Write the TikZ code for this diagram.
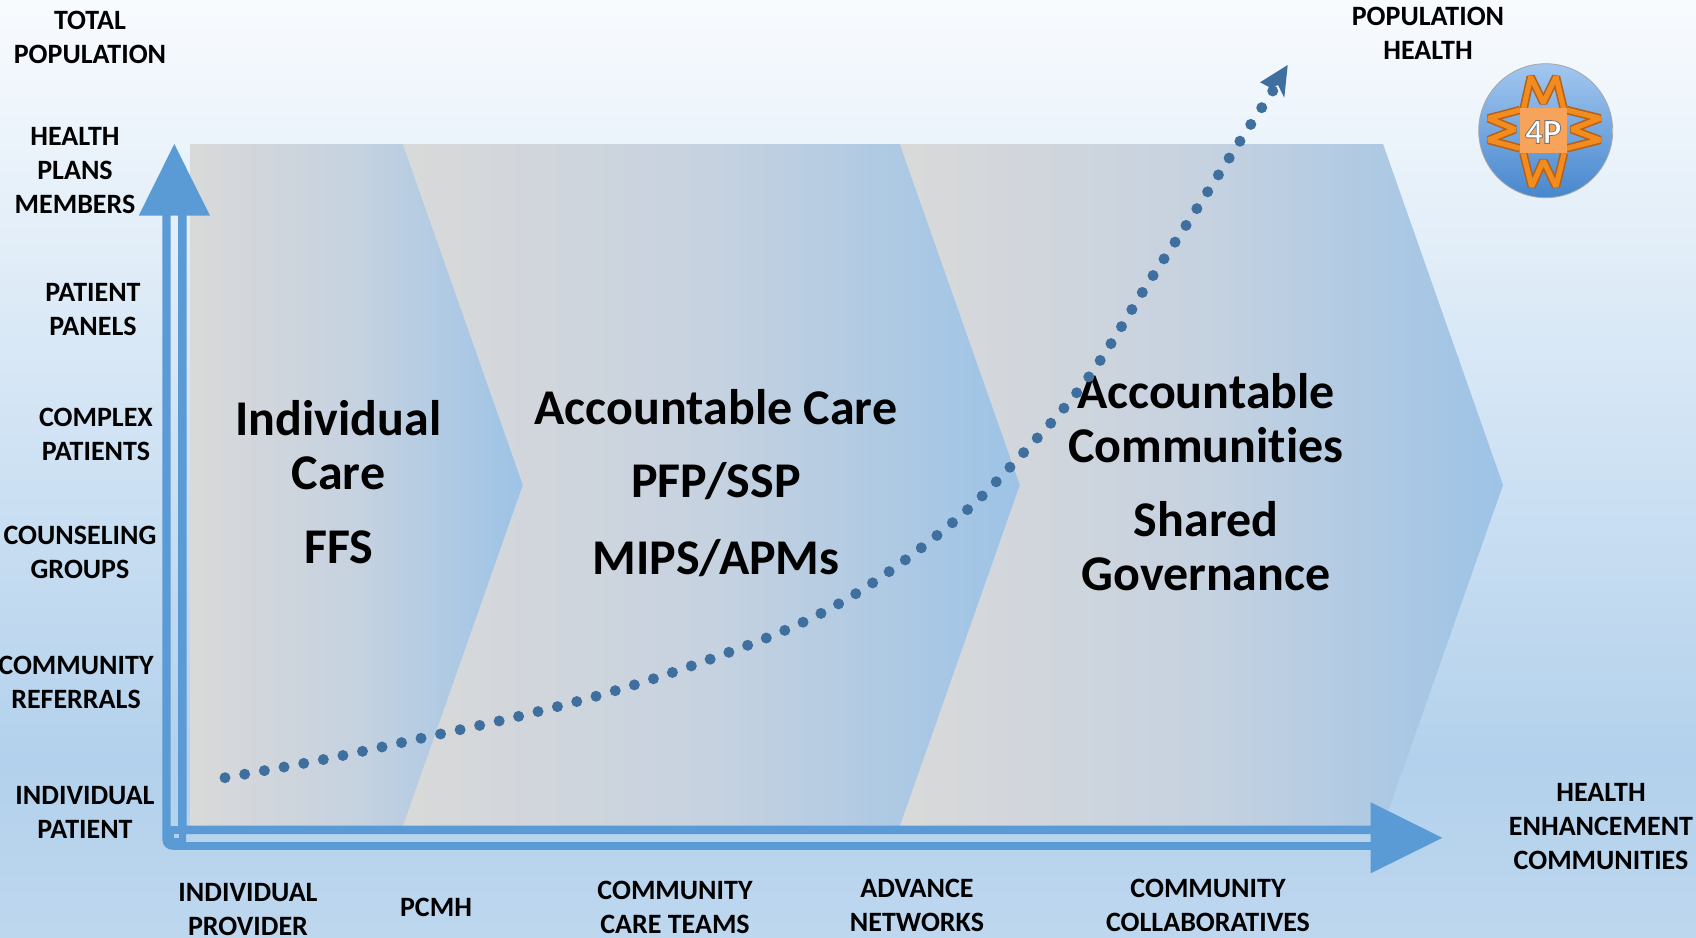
\documentclass[tikz,border=0pt]{standalone}
\usepackage{fontspec}
\setmainfont{Carlito}[Ligatures={NoCommon}]
\definecolor{axisblue}{HTML}{5B9BD5}
\definecolor{dotblue}{HTML}{3F6F9F}
\definecolor{chevgray}{HTML}{D9D9D9}
\definecolor{chevmid}{HTML}{C6D2E0}
\definecolor{chevblue}{HTML}{9DC3E6}
\definecolor{bgtop}{HTML}{F8FBFE}
\definecolor{bgmid}{HTML}{B3D1EC}
\definecolor{bgbot}{HTML}{BDD7EE}
\definecolor{logotop}{HTML}{A2C7F0}
\definecolor{logobot}{HTML}{4787CE}
\definecolor{logoedge}{HTML}{B5611A}
\definecolor{logoor}{HTML}{F28C1E}
\definecolor{logosq}{HTML}{F7A45A}
\tikzset{
  axlabel/.style={align=center,inner sep=0pt,text=black,font=\fontsize{28}{34}\selectfont\bfseries},
  biglabel/.style={align=center,inner sep=0pt,text=black,font=\fontsize{50}{54}\selectfont\bfseries},
  chev/.style={left color=chevgray,right color=chevblue,middle color=chevmid},
  axfill/.style={fill=axisblue,draw=none},
  emdark/.style={draw=logoedge,line width=8.4pt,line join=bevel},
  emlight/.style={draw=logoor,line width=5.2pt,line join=bevel},
}
\begin{document}
\begin{tikzpicture}[x=1pt,y=-1pt]
\useasboundingbox (0,0) rectangle (1696,937);
% background
\shade[top color=bgtop,bottom color=bgmid] (0,0) rectangle (1696,761);
\shade[top color=bgmid,bottom color=bgbot] (0,760) rectangle (1696,937);
% chevrons
\shade[chev]
  (190,144) -- (403,144) -- (523,485) -- (403,826) -- (190,826) -- cycle;
\shade[chev]
  (403,144) -- (900,144) -- (1020,485) -- (900,826) -- (403,826) -- (523,485) -- cycle;
\shade[chev]
  (900,144) -- (1383,144) -- (1503,485) -- (1383,826) -- (900,826) -- (1020,485) -- cycle;
% axes
\fill[axfill] (162.4,215) -- (170.7,215) -- (170.7,826) -- (178.2,826) -- (178.2,215) -- (186.6,215)
  -- (186.6,825.7) -- (1372,825.7) -- (1372,834) -- (186,834) -- (186,842) -- (1372,842) -- (1372,849.8)
  -- (172.4,849.8) arc[start angle=90,end angle=180,radius=10] -- cycle;
\fill[bgmid] (174,834) rectangle (179,838.3);
\fill[axfill] (174.3,144) -- (210,215.7) -- (138.7,215.7) -- cycle;
\fill[axfill] (1442.3,837.8) -- (1370.7,873.3) -- (1370.7,802.3) -- cycle;
% big labels
\node[biglabel] (care) at (338.5,482.5) {Individual\\Care\\[20pt]FFS};
\node[biglabel] (aco) at (716,483.5) {Accountable Care\\[19pt]PFP/SSP\\[23pt]MIPS/APMs};
\node[biglabel] (comm) at (1206,482) {Accountable\\Communities\\[20pt]Shared\\Governance};
% growth curve
\coordinate (curvestart) at (225,777.7);
\coordinate (curveend) at (1276,86);
\draw[dotblue,line width=11pt,line cap=round,dash pattern=on 0pt off 20pt]
  plot[smooth,tension=.6] coordinates {(curvestart) (324.5,759.3) (424,737.6) (520,716) (617.6,690)
  (714.5,657.6) (806,620.8) (879,578.6) (958,518) (1015,461.8) (1086,380.7)
  (1148,283.4) (1189.8,219.6) (1243.8,135.2) (curveend)};
\fill[dotblue] (1287.7,65) -- (1284.3,97.7) -- (1278,85) -- (1271,88) -- (1260,82.3) -- cycle;
% axis labels
\node[axlabel] (totalpop) at (90,37.5) {TOTAL\\POPULATION};
\node[axlabel] (plans) at (75,170.5) {HEALTH\\PLANS\\MEMBERS};
\node[axlabel] (panels) at (93,309.5) {PATIENT\\PANELS};
\node[axlabel] (complex) at (96,434.5) {COMPLEX\\PATIENTS};
\node[axlabel] (groups) at (80,552.5) {COUNSELING\\GROUPS};
\node[axlabel] (referrals) at (76,682.5) {COMMUNITY\\REFERRALS};
\node[axlabel] (patient) at (85,812.5) {INDIVIDUAL\\PATIENT};
\node[axlabel] (provider) at (248,910) {INDIVIDUAL\\PROVIDER};
\node[axlabel] (pcmh) at (436,907) {PCMH};
\node[axlabel] (teams) at (675,907) {COMMUNITY\\CARE TEAMS};
\node[axlabel] (networks) at (917,905.5) {ADVANCE\\NETWORKS};
\node[axlabel] (collab) at (1208,905.5) {COMMUNITY\\COLLABORATIVES};
\node[axlabel] (enhance) at (1601,826.5) {HEALTH\\ENHANCEMENT\\COMMUNITIES};
\node[axlabel] (pophealth) at (1428,33.5) {POPULATION\\HEALTH};
% logo
\shade[top color=logotop,bottom color=logobot,draw=black!35,line width=.8pt] (1545.7,130.7) circle[radius=67];
\begin{scope}[shift={(1470,60)},x=0.3333pt,y=-0.3333pt]
  \foreach \st in {emdark,emlight}{
    \draw[\st] (160,150) -- (182,50) -- (220,128) -- (258,50) -- (282,150);
    \draw[\st] (160,280) -- (185,380) -- (220,302) -- (258,380) -- (282,280);
    \draw[\st] (150,150) -- (55,175) -- (135,208) -- (55,240) -- (150,265);
    \draw[\st] (290,150) -- (390,175) -- (305,208) -- (390,240) -- (290,265);
  }
  \fill[logosq] (150,145) rectangle (290,278);
  \node[inner sep=0pt,text=white,font=\fontsize{35}{35}\selectfont\bfseries] (fourp) at (220,216)
    {\special{pdf:code 2 Tr 0.8 w 0.45 0.45 0.45 RG}4P\special{pdf:code 0 Tr}};
\end{scope}
\end{tikzpicture}
\end{document}
